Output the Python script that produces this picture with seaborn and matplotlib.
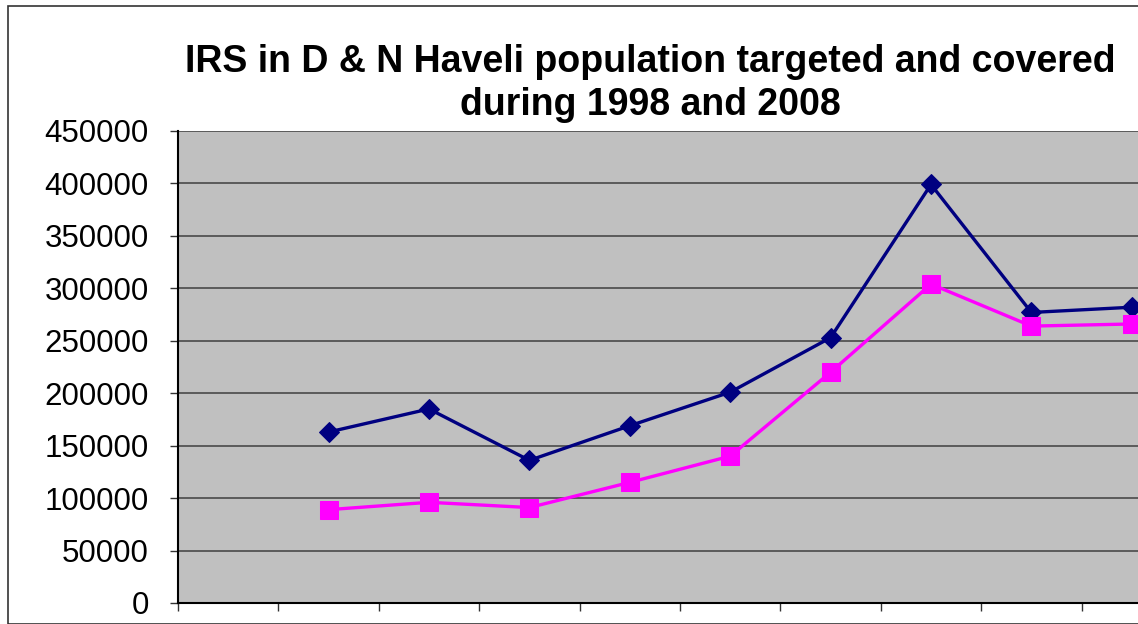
import numpy as np
import pandas as pd
import matplotlib
matplotlib.use("Agg")
import matplotlib.pyplot as plt
import seaborn as sns
from matplotlib.patches import Rectangle

# values (first category has no data, last ones are cut off)
years = [1998, 1999, 2000, 2001, 2002, 2003, 2004, 2005, 2006, 2007]
targeted = [np.nan, 163000, 185000, 136000, 169000, 201000, 253000, 399000, 277000, 282000]
covered = [np.nan, 89000, 96000, 91000, 115000, 140000, 220000, 304000, 264000, 266000]

title_lines = ["IRS in D & N Haveli population targeted and covered",
               "during 1998 and 2008"]

df = pd.DataFrame({"year": years, "targeted": targeted, "covered": covered})
df["pos"] = np.arange(len(df))

sns.set_style("white")
plt.rcParams["font.family"] = ["Liberation Sans", "DejaVu Sans"]

fig = plt.figure(figsize=(11.38, 6.24), dpi=100)
ax = fig.add_axes([178 / 1138, 21 / 624, 960 / 1138, 472 / 624])
ax.set_facecolor("#c0c0c0")

sns.lineplot(data=df, x="pos", y="targeted", ax=ax, color="#000080", linewidth=2.4,
             marker="D", markersize=10, markeredgecolor="#000080", zorder=3)
sns.lineplot(data=df, x="pos", y="covered", ax=ax, color="#ff00ff", linewidth=2.4,
             marker="s", markersize=12.5, markeredgecolor="#ff00ff", zorder=3)

ax.set_ylim(0, 450000)
ax.set_yticks(np.arange(0, 450001, 50000))
ax.set_xlim(-0.5, -0.5 + 960 / 100.4)
ax.set_xticks(np.arange(-0.5, 9.0, 1.0))
ax.set_xticklabels([])
ax.yaxis.grid(True, color="#4a4a4a", linewidth=1.2)
ax.set_axisbelow(True)
ax.tick_params(axis="y", direction="out", length=6, width=1, color="#333333",
               labelsize=22.5, labelcolor="black", pad=15, left=True)
ax.tick_params(axis="x", direction="out", length=6, width=1, color="#333333", bottom=True)
for s in ["top", "right"]:
    ax.spines[s].set_visible(False)
for s in ["left", "bottom"]:
    ax.spines[s].set_color("black")
    ax.spines[s].set_linewidth(1.5)
ax.set_xlabel("")
ax.set_ylabel("")

for line, base in zip(title_lines, [72, 115]):
    fig.text(650 / 1138, 1 - base / 624, line, ha="center", va="baseline",
             fontsize=27, fontweight="bold", color="black")

fig.patches.append(Rectangle((8 / 1138, 0), 1.2, 1 - 6 / 624, transform=fig.transFigure,
                             fill=False, edgecolor="#333333", linewidth=1.2))

fig.savefig("out.png", dpi=100)
